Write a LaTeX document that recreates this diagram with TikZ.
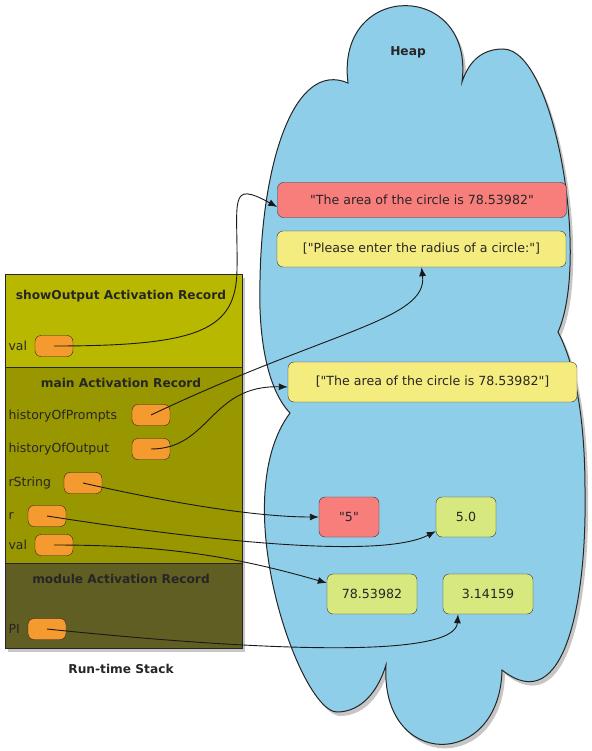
\documentclass[tikz,border=0pt]{standalone}
\usepackage{fontspec}
\setmainfont{DejaVu Sans}[Ligatures=TeXOff]
\usetikzlibrary{arrows.meta,shadows}
\definecolor{showcol}{RGB}{185,184,0}
\definecolor{maincol}{RGB}{153,151,0}
\definecolor{modcol}{RGB}{96,94,34}
\definecolor{heapcol}{RGB}{143,206,232}
\definecolor{ptrcol}{RGB}{244,154,46}
\definecolor{strcol}{RGB}{248,126,124}
\definecolor{listcol}{RGB}{245,236,128}
\definecolor{numcol}{RGB}{214,232,126}
\tikzset{
  var/.style={draw=black!85, fill=ptrcol, rounded corners=6pt, minimum width=38pt,
    minimum height=21pt, inner sep=0pt},
  vname/.style={anchor=west, text=black!85, font=\fontsize{12.5}{14}\selectfont},
  title/.style={text=black!85, font=\bfseries\fontsize{12.2}{15}\selectfont},
  obj/.style={draw=black!80, rounded corners=6pt, minimum height=40pt, inner sep=0pt,
    text=black!85, font=\fontsize{12.6}{14}\selectfont},
  ptr/.style={-{Latex[length=9pt,width=7pt]}, line width=0.9pt, black!90},
  shade/.style={drop shadow={opacity=0.45, shadow xshift=3pt, shadow yshift=-4pt}}
}
\begin{document}
\begin{tikzpicture}[x=1pt,y=-1pt]
\useasboundingbox (0,0) rectangle (591,751);
\def\heapcloud{(348,83) .. controls (335,-20) and (475,-20) .. (462,82)
  .. controls (470,58) and (485,49) .. (503,49)
  .. controls (555,49) and (590,260) .. (558,332)
  .. controls (578,370) and (585,430) .. (585,490)
  .. controls (587,600) and (565,720) .. (502,670)
  .. controls (500,770) and (380,770) .. (386,665)
  .. controls (375,700) and (355,712) .. (337,712)
  .. controls (300,712) and (225,500) .. (290,413)
  .. controls (268,390) and (258,340) .. (260,280)
  .. controls (262,160) and (295,60) .. (348,83) -- cycle}

% run-time stack
\fill[shade, showcol] (5,274) rectangle (242,648);
\fill[maincol] (5,367) rectangle (242,563);
\fill[modcol] (5,563) rectangle (242,648);
\draw[line width=1pt, black!85] (5,274) rectangle (242,648) (5,367) -- (242,367) (5,563) -- (242,563);

% heap
\draw[shade, fill=heapcol, draw=black!85, line width=1pt] \heapcloud;
\node[title] (theap) at (408,52) {Heap};

\node[title] (tshow) at (121,296) {showOutput Activation Record};
\node[title] (tmain) at (121,383) {main Activation Record};
\node[title] (tmod) at (121,579) {module Activation Record};
\node[title] (tstack) at (121,669) {Run-time Stack};

\node[vname] (nsval) at (5,346) {val};
\node[var] (sval) at (54,346) {};
\node[vname] (nhop) at (5,416) {historyOfPrompts};
\node[var] (hop) at (151,415) {};
\node[vname] (nhoo) at (5,449) {historyOfOutput};
\node[var] (hoo) at (151,449) {};
\node[vname] (nrs) at (5,483) {rString};
\node[var] (rs) at (83,483) {};
\node[vname] (nrr) at (5,516) {r};
\node[var] (rr) at (47,516) {};
\node[vname] (nmval) at (5,545) {val};
\node[var] (mval) at (54,545) {};
\node[vname] (npi) at (5,629) {PI};
\node[var] (pi) at (47,629) {};

% objects on the heap
\node[obj, fill=strcol, minimum width=289pt, minimum height=35pt] (s1) at (422,200) {"The area of the circle is 78.53982"};
\node[obj, fill=listcol, minimum width=289pt, minimum height=36pt] (l1) at (421.5,249) {["Please enter the radius of a circle:"]};
\node[obj, fill=listcol, minimum width=289pt] (l2) at (432.5,382) {["The area of the circle is 78.53982"]};
\node[obj, fill=strcol, minimum width=60pt] (s5) at (349,517) {"5"};
\node[obj, fill=numcol, minimum width=60pt] (f50) at (466,517) {5.0};
\node[obj, fill=numcol, minimum width=90pt] (f78) at (372,594) {78.53982};
\node[obj, fill=numcol, minimum width=90pt] (fpi) at (488,594) {3.14159};

% references
\draw[ptr] (sval.center) .. controls (200,346) and (236,330) .. (237,270)
  .. controls (238,200) and (228,180) .. ([yshift=-7pt]s1.west);
\draw[ptr] (hop.center) .. controls (330,330) and (428,320) .. (l1.south);
\draw[ptr] (hoo.center) .. controls (210,449) and (210,385) .. ([yshift=-5pt]l2.west);
\draw[ptr] (rs.center) .. controls (180,505) and (260,517) .. (s5.west);
\draw[ptr] (rr.center) .. controls (200,540) and (380,560) .. ([yshift=6pt]f50.south west);
\draw[ptr] (mval.center) .. controls (160,545) and (230,555) .. ([yshift=11pt]f78.west);
\draw[ptr] (pi.center) .. controls (250,650) and (455,660) .. ([xshift=-30pt]fpi.south);
\end{tikzpicture}
\end{document}
